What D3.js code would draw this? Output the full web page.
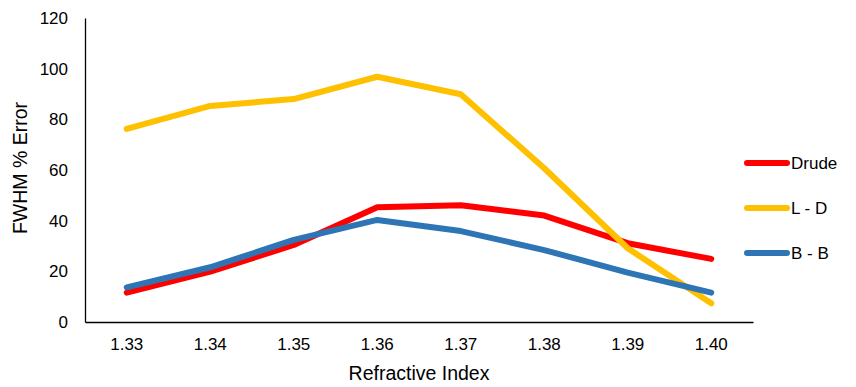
<!DOCTYPE html>
<html><head><meta charset="utf-8">
<script src="https://cdn.jsdelivr.net/npm/d3@7"></script>
<style>body{margin:0;background:#fff}svg{display:block}text{font-family:"Liberation Sans",Arial,sans-serif;fill:#000}</style>
</head><body><svg id="c" width="856" height="387"></svg>
<script>
const categories = ["1.33","1.34","1.35","1.36","1.37","1.38","1.39","1.40"];
const drude = [11.6, 19.9, 30.4, 45.3, 46.1, 42.0, 31.1, 24.9];
const ld    = [76.2, 85.3, 88.0, 96.8, 89.9, 60.7, 29.1, 7.4];
const bb    = [13.7, 21.6, 32.4, 40.3, 35.9, 28.4, 19.5, 11.6];
const yTicks = [0,20,40,60,80,100,120];
const seriesNames = ["Drude","L - D","B - B"];
const seriesColors = ["#ff0000","#ffc000","#2e75b6"];
const series = [drude, ld, bb];

const svg = d3.select("#c");
const m = {l:85, r:103, t:18, b:65};
const W = 856, H = 387;
const x = d3.scaleBand().domain(categories).range([m.l, W-m.r]);
const y = d3.scaleLinear().domain([0,120]).range([H-m.b, m.t]);

const ya = svg.append("g").attr("transform",`translate(${m.l},0)`)
  .call(d3.axisLeft(y).tickValues(yTicks).tickSize(0).tickPadding(17));
ya.select(".domain").attr("stroke","#000").attr("stroke-width",1.3);
ya.selectAll("text").style("font-size","17px").style("font-family","Liberation Sans, Arial, sans-serif");

const xa = svg.append("g").attr("transform",`translate(0,${H-m.b})`)
  .call(d3.axisBottom(x).tickSize(0).tickPadding(16));
xa.select(".domain").attr("stroke","#000").attr("stroke-width",1.3);
xa.selectAll("text").style("font-size","17px").style("font-family","Liberation Sans, Arial, sans-serif");

const line = d3.line().x((d,i)=>x(categories[i])+x.bandwidth()/2).y(d=>y(d));
series.forEach((s,k)=>{
  svg.append("path").datum(s).attr("d",line).attr("fill","none")
    .attr("stroke",seriesColors[k]).attr("stroke-width",6)
    .attr("stroke-linecap","round").attr("stroke-linejoin","round");
});

svg.append("text").attr("x",(m.l+W-m.r)/2).attr("y",380).attr("text-anchor","middle")
  .style("font-size","19.5px").text("Refractive Index");
svg.append("text").attr("transform",`translate(27,${(m.t+H-m.b)/2-2}) rotate(-90)`)
  .attr("text-anchor","middle").style("font-size","19.5px").text("FWHM % Error");

const lg = svg.append("g");
seriesNames.forEach((n,k)=>{
  const yy = 163 + k*45;
  lg.append("line").attr("x1",747).attr("x2",787).attr("y1",yy).attr("y2",yy)
    .attr("stroke",seriesColors[k]).attr("stroke-width",6).attr("stroke-linecap","round");
  lg.append("text").attr("x",791).attr("y",yy).attr("dy","0.36em").style("font-size","17px").text(n);
});
</script></body></html>
